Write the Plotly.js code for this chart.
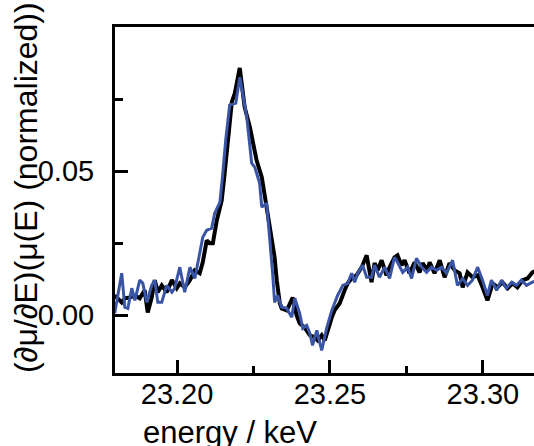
<!DOCTYPE html>
<html>
<head>
<meta charset="utf-8">
<script src="https://cdn.plot.ly/plotly-3.0.1.min.js"></script>
<style>
html,body{margin:0;padding:0;overflow:hidden;background:#fff;}
#chart{width:560px;height:446px;}
</style>
</head>
<body>
<div id="chart"></div>
<script>
// energy (keV) and normalized derivative values, sample 1 (black)
const energyA = [23.1796,23.1819,23.1829,23.1845,23.1862,23.1878,23.1894,23.1904,23.1917,23.1927,23.1937,23.1950,23.1966,23.1983,23.1999,23.2009,23.2025,23.2042,23.2058,23.2074,23.2084,23.2097,23.2107,23.2117,23.2130,23.2146,23.2156,23.2169,23.2179,23.2189,23.2205,23.2221,23.2238,23.2260,23.2277,23.2296,23.2319,23.2326,23.2336,23.2342,23.2359,23.2378,23.2391,23.2401,23.2417,23.2434,23.2450,23.2460,23.2473,23.2483,23.2492,23.2506,23.2515,23.2532,23.2548,23.2558,23.2571,23.2587,23.2604,23.2620,23.2636,23.2646,23.2656,23.2669,23.2685,23.2695,23.2711,23.2721,23.2734,23.2744,23.2760,23.2777,23.2793,23.2803,23.2819,23.2826,23.2842,23.2859,23.2875,23.2891,23.2908,23.2924,23.2934,23.2950,23.2966,23.2983,23.2999,23.3015,23.3032,23.3048,23.3064,23.3081,23.3097,23.3113,23.3130,23.3146,23.3162,23.3179];
const valuesA = [0.0069,0.0045,0.0059,0.0062,0.0069,0.0059,0.0087,0.0010,0.0062,0.0122,0.0080,0.0104,0.0080,0.0122,0.0094,0.0111,0.0097,0.0122,0.0156,0.0146,0.0184,0.0260,0.0250,0.0250,0.0330,0.0399,0.0496,0.0642,0.0740,0.0771,0.0858,0.0722,0.0653,0.0538,0.0479,0.0354,0.0201,0.0122,0.0042,0.0024,0.0017,0.0062,0.0000,-0.0028,-0.0042,-0.0069,-0.0076,-0.0087,-0.0069,-0.0087,-0.0052,-0.0007,0.0017,0.0042,0.0087,0.0111,0.0128,0.0139,0.0167,0.0208,0.0115,0.0181,0.0156,0.0191,0.0139,0.0167,0.0201,0.0208,0.0174,0.0191,0.0146,0.0184,0.0149,0.0181,0.0156,0.0184,0.0146,0.0191,0.0132,0.0181,0.0156,0.0146,0.0097,0.0149,0.0132,0.0139,0.0097,0.0052,0.0111,0.0097,0.0115,0.0094,0.0111,0.0097,0.0122,0.0128,0.0149,0.0156];

// sample 2 (blue)
const energyB = [23.1796,23.1819,23.1829,23.1839,23.1852,23.1862,23.1878,23.1888,23.1901,23.1917,23.1927,23.1937,23.1950,23.1966,23.1983,23.1992,23.2009,23.2025,23.2042,23.2058,23.2074,23.2084,23.2097,23.2113,23.2123,23.2140,23.2149,23.2159,23.2172,23.2192,23.2205,23.2215,23.2228,23.2244,23.2254,23.2270,23.2277,23.2293,23.2303,23.2313,23.2319,23.2329,23.2342,23.2359,23.2375,23.2385,23.2401,23.2411,23.2424,23.2434,23.2443,23.2457,23.2473,23.2489,23.2506,23.2525,23.2542,23.2558,23.2571,23.2581,23.2591,23.2607,23.2620,23.2636,23.2646,23.2662,23.2679,23.2695,23.2711,23.2721,23.2738,23.2754,23.2767,23.2783,23.2800,23.2816,23.2832,23.2849,23.2865,23.2881,23.2901,23.2917,23.2934,23.2950,23.2966,23.2983,23.2999,23.3015,23.3028,23.3045,23.3061,23.3077,23.3094,23.3110,23.3126,23.3143,23.3162,23.3179];
const valuesB = [0.0007,0.0146,0.0028,0.0024,0.0094,0.0052,0.0122,0.0111,0.0045,0.0104,0.0122,0.0045,0.0045,0.0104,0.0080,0.0094,0.0167,0.0080,0.0167,0.0128,0.0215,0.0271,0.0295,0.0302,0.0354,0.0392,0.0486,0.0608,0.0729,0.0736,0.0826,0.0771,0.0687,0.0528,0.0514,0.0458,0.0375,0.0389,0.0271,0.0139,0.0045,0.0069,0.0028,0.0024,-0.0007,0.0059,0.0007,-0.0045,-0.0035,-0.0062,-0.0104,-0.0052,-0.0122,-0.0045,0.0017,0.0069,0.0104,0.0111,0.0146,0.0115,0.0146,0.0174,0.0132,0.0132,0.0174,0.0132,0.0167,0.0128,0.0201,0.0184,0.0149,0.0167,0.0128,0.0198,0.0167,0.0149,0.0167,0.0156,0.0167,0.0146,0.0191,0.0104,0.0128,0.0104,0.0122,0.0167,0.0122,0.0069,0.0122,0.0087,0.0122,0.0094,0.0115,0.0104,0.0122,0.0104,0.0115,0.0122];

const xTickVals = [23.20, 23.25, 23.30];
const xTickText = ['23.20', '23.25', '23.30'];
const yTickVals = [0.00, 0.05];
const yTickText = ['0.00', '0.05'];
const xTitle = 'energy / keV';
const yTitle = '(∂μ/∂E)(μ(E) (normalized))';

const FONT = 'Liberation Sans, Arial, sans-serif';

const traces = [
  {x: energyA, y: valuesA, mode: 'lines', line: {color: '#000000', width: 4}, hoverinfo: 'skip'},
  {x: energyB, y: valuesB, mode: 'lines', line: {color: '#3a55a6', width: 3}, hoverinfo: 'skip'}
];

const layout = {
  width: 560, height: 446,
  margin: {l: 115, r: 15.7, t: 27, b: 73.4},
  paper_bgcolor: '#ffffff', plot_bgcolor: '#ffffff',
  showlegend: false,
  font: {family: FONT, color: '#000000', size: 29},
  xaxis: {
    range: [23.1797, 23.32],
    tickvals: xTickVals, ticktext: xTickText,
    ticks: 'inside', ticklen: 13, tickwidth: 3, tickcolor: '#000',
    showline: true, linewidth: 3, linecolor: '#000', mirror: true,
    showgrid: false, zeroline: false,
    tickfont: {family: FONT, size: 29, color: '#000'},
    ticklabelstandoff: -7,
    minor: {dtick: 0.025, tick0: 23.2, ticks: 'inside', ticklen: 7, tickwidth: 3, tickcolor: '#000', showgrid: false}
  },
  yaxis: {
    range: [-0.02, 0.1],
    tickvals: yTickVals, ticktext: yTickText,
    ticks: 'inside', ticklen: 13, tickwidth: 3, tickcolor: '#000',
    showline: true, linewidth: 3, linecolor: '#000', mirror: true,
    showgrid: false, zeroline: false,
    tickfont: {family: FONT, size: 29, color: '#000'},
    ticklabelstandoff: 12,
    minor: {dtick: 0.025, tick0: 0, ticks: 'inside', ticklen: 8, tickwidth: 3, tickcolor: '#000', showgrid: false}
  },
  annotations: [
    {text: xTitle, xref: 'paper', yref: 'paper', x: 0.268, y: -0.171, xanchor: 'center', yanchor: 'middle', showarrow: false, font: {family: FONT, size: 31, color: '#000'}},
    {text: yTitle, xref: 'paper', yref: 'paper', x: -0.207, y: 0.535, xanchor: 'center', yanchor: 'middle', textangle: -90, showarrow: false, font: {family: FONT, size: 32, color: '#000'}}
  ]
};

Plotly.newPlot('chart', traces, layout, {displayModeBar: false, staticPlot: true});
</script>
</body>
</html>
